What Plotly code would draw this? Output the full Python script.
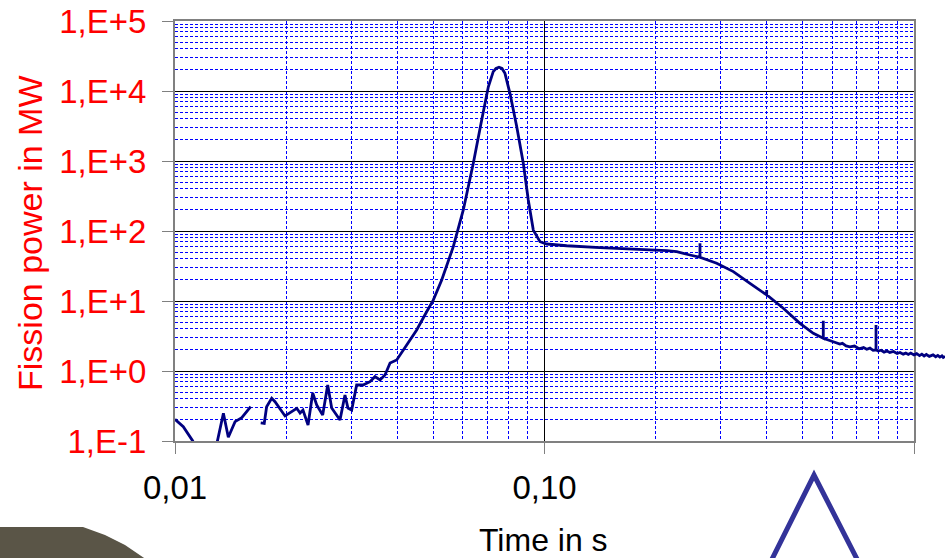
import plotly.graph_objects as go

# ---- data ----
time_s = [
    0.0100, 0.01053, 0.01117, 0.0113,
    None,
    0.01297, 0.01352, 0.01394, 0.01454, 0.01516, 0.01603,
    None,
    0.01706, 0.01744, 0.01770, 0.01827, 0.01865, 0.01985, 0.02136, 0.02180,
    0.02220, 0.02291, 0.02359, 0.02418, 0.02510, 0.02590, 0.02655, 0.02710,
    0.02796, 0.02884, 0.02938, 0.03007, 0.03102, 0.03227, 0.03371, 0.03476,
    0.03588, 0.03701, 0.03820, 0.03981, 0.04148, 0.04280, 0.04509, 0.04798,
    0.05000, 0.05270, 0.05665, 0.06029, 0.06417, 0.06761, 0.07047, 0.07265,
    0.07389, 0.07530, 0.07673, 0.07816, 0.08063, 0.08412, 0.08763, 0.09039,
    0.09326, 0.09723,
    0.1014, 0.1148, 0.1413, 0.2141, 0.2279, 0.2475,
    0.2634, 0.2635, 0.2636,
    0.2924, 0.3244, 0.3598,
    0.3992, 0.3993, 0.3994,
    0.4428, 0.4913, 0.5340,
    0.5681, 0.5682, 0.5683,
    0.6046, 0.620, 0.630, 0.640, 0.655, 0.671, 0.690, 0.710, 0.730, 0.745,
    0.760, 0.775,
    0.7892, 0.7893, 0.7894,
    0.800, 0.815, 0.830, 0.845, 0.860, 0.880, 0.900, 0.9165, 0.935, 0.950,
    0.965, 0.980, 1.000, 1.017, 1.035, 1.050, 1.065, 1.080, 1.100, 1.126,
    1.145, 1.160, 1.175, 1.190, 1.200, 1.213,
]
power_mw = [
    0.204, 0.160, 0.100, 0.085,
    None,
    0.090, 0.249, 0.113, 0.189, 0.215, 0.309,
    None,
    0.182, 0.179, 0.309, 0.407, 0.364, 0.228, 0.293, 0.251,
    0.277, 0.169, 0.485, 0.327, 0.235, 0.631, 0.296, 0.251,
    0.200, 0.454, 0.296, 0.277, 0.631, 0.631, 0.703, 0.830,
    0.743, 0.877, 1.30, 1.44, 2.0, 2.62, 3.85, 7.03,
    10.3, 20.0, 59.7, 200, 927, 3850, 11500, 18900,
    20960, 21800, 20960, 17900, 9270, 3090, 927, 277,
    103, 70.3,
    65.2, 61.6, 57.7, 52.3, 50.6, 45.4,
    42.1, 66.7, 42.1,
    34.6, 26.3, 17.9,
    12.2, 14.4, 12.2,
    7.87, 4.80, 3.46,
    2.93, 5.24, 2.93,
    2.62, 2.50, 2.42, 2.48, 2.28, 2.22, 2.27, 2.08, 2.16, 2.04,
    2.12, 1.97,
    2.00, 4.54, 2.00,
    1.93, 1.98, 1.86, 1.93, 1.84, 1.90, 1.78, 1.84, 1.74, 1.80,
    1.72, 1.80, 1.70, 1.77, 1.66, 1.74, 1.64, 1.72, 1.62, 1.70,
    1.60, 1.67, 1.58, 1.65, 1.56, 1.62,
]

x_tickvals = [0.01, 0.1, 1.0]
x_ticktext = ["0,01", "0,10", "1,00"]
y_tickvals = [0.1, 1, 10, 100, 1000, 10000, 100000]
y_ticktext = ["1,E-1", "1,E+0", "1,E+1", "1,E+2", "1,E+3", "1,E+4", "1,E+5"]

FONT = "Liberation Sans, Arial, sans-serif"
W, H = 945, 558
ML, MT, MB, MR = 175, 21, 117, 0
plot_w = W - ML - MR          # 770
axis_w = 739                  # visible axis width
xdom_end = axis_w / plot_w

fig = go.Figure()

# invisible copy on main axes so that the gridded subplot exists
fig.add_trace(go.Scatter(x=time_s, y=power_mw, mode="lines",
                         line=dict(color="rgba(0,0,0,0)", width=0),
                         hoverinfo="skip", showlegend=False,
                         xaxis="x", yaxis="y"))
# visible curve on an overlay axis spanning to the right edge (same scale)
fig.add_trace(go.Scatter(x=time_s, y=power_mw, mode="lines",
                         line=dict(color="#000080", width=2.8),
                         connectgaps=False, showlegend=False,
                         xaxis="x2", yaxis="y2"))

grid_minor = dict(dtick="D1", showgrid=True, gridcolor="#0000ff",
                  griddash="3px,2px", gridwidth=1, ticks="")

fig.update_layout(
    width=W, height=H,
    margin=dict(l=ML, r=MR, t=MT, b=MB, pad=0),
    paper_bgcolor="white", plot_bgcolor="rgba(0,0,0,0)",
    font=dict(family=FONT, size=33, color="black"),
    xaxis=dict(
        type="log", range=[-2, 0], domain=[0, xdom_end],
        tickvals=x_tickvals, ticktext=x_ticktext,
        tickfont=dict(family=FONT, size=33, color="black"),
        ticks="outside", ticklen=11, tickcolor="#808080", tickwidth=1,
        ticklabelstandoff=5,
        showgrid=True, gridcolor="#000000", gridwidth=1,
        minor=grid_minor,
        showline=True, mirror=True, linecolor="#808080", linewidth=2,
        zeroline=False, anchor="y", automargin=False,
    ),
    yaxis=dict(
        type="log", range=[-1, 5], domain=[0, 1],
        tickvals=y_tickvals, ticktext=y_ticktext,
        tickfont=dict(family=FONT, size=33, color="#ff0000"),
        ticks="outside", ticklen=11, tickcolor="#808080", tickwidth=1,
        ticklabelstandoff=9,
        showgrid=True, gridcolor="#000000", gridwidth=1,
        minor=grid_minor,
        showline=True, mirror=True, linecolor="#808080", linewidth=2,
        zeroline=False, anchor="x", automargin=False,
    ),
    xaxis2=dict(type="log", range=[-2, -2 + 2 * plot_w / axis_w],
                domain=[0, 1], visible=False, anchor="y2",
                showgrid=False, zeroline=False),
    yaxis2=dict(type="log", range=[-1, 5], domain=[0, 1], visible=False,
                anchor="x2", showgrid=False, zeroline=False),
)

def px2paper(px, py):
    return (px - ML) / plot_w, (H - MB - py) / (H - MT - MB)

# axis titles
tx, ty = px2paper(543.5, 540)
fig.add_annotation(text="Time in s", x=tx, y=ty, xref="paper", yref="paper",
                   showarrow=False, xanchor="center", yanchor="middle",
                   font=dict(family=FONT, size=32, color="black"))
vx, vy = px2paper(30, 233)
fig.add_annotation(text="Fission power in MW", x=vx, y=vy, xref="paper",
                   yref="paper", showarrow=False, textangle=-90,
                   xanchor="center", yanchor="middle",
                   font=dict(family=FONT, size=34, color="#ff0000"))

# decorative slide elements visible in the picture
def path_from(points, close):
    s = ""
    for i, (a, b) in enumerate(points):
        x, y = px2paper(a, b)
        s += ("M" if i == 0 else " L") + f"{x:.4f},{y:.4f}"
    return s + (" Z" if close else "")

gray_pts = [(-5, 527), (83, 527), (105, 535), (125, 545), (150, 562), (-5, 562)]
fig.add_shape(type="path", xref="paper", yref="paper",
              path=path_from(gray_pts, True),
              fillcolor="#5a5547", line=dict(width=0))
tri_pts = [(765.6, 572), (814, 475), (863.6, 572)]
fig.add_shape(type="path", xref="paper", yref="paper",
              path=path_from(tri_pts, False),
              line=dict(color="#333399", width=5))

fig.write_html("out.html",
               config={"displayModeBar": False},
               post_script="document.body.style.margin='0';"
                           "document.body.style.overflow='hidden';")
